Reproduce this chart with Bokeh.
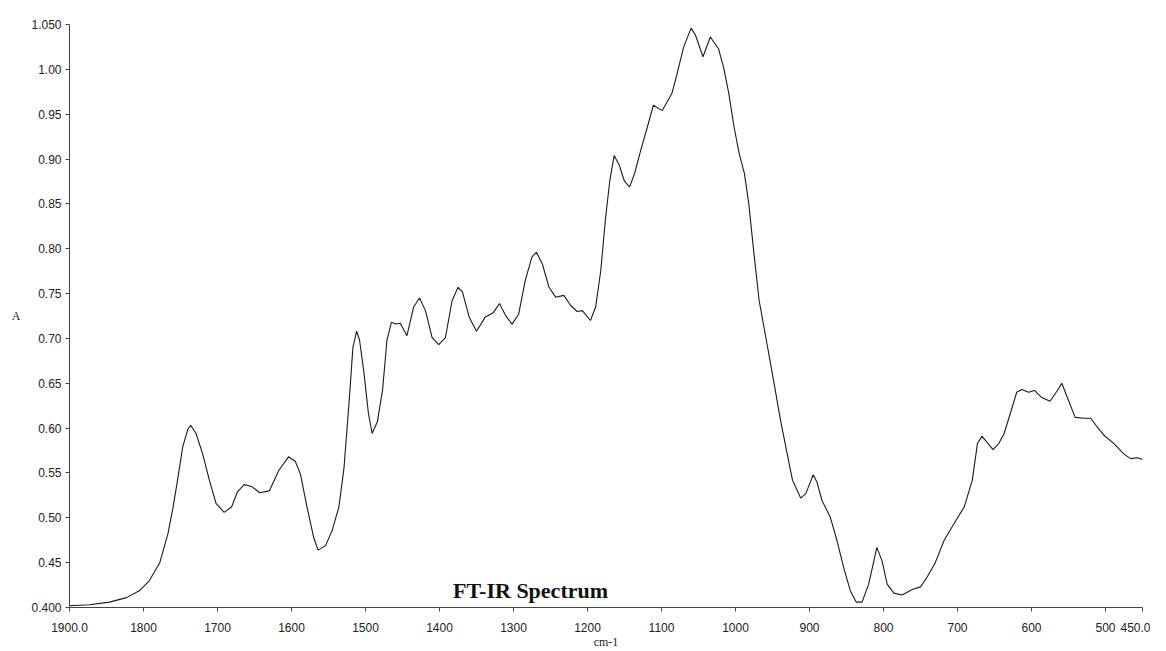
from bokeh.plotting import figure
from bokeh.models import FixedTicker, Range1d, Label
from bokeh.embed import file_html
from bokeh.resources import INLINE

wavenumber = [1900, 1873, 1846, 1823, 1805, 1792, 1778, 1767, 1760, 1754, 1747, 1740, 1736, 1729, 1720, 1711, 1702, 1691, 1681, 1673, 1664, 1654, 1643, 1630,
              1617, 1604, 1595, 1588, 1579, 1570, 1564, 1554, 1545, 1536, 1529, 1522, 1517, 1512, 1508, 1502, 1496, 1491, 1484, 1477, 1471, 1465, 1459, 1453, 1444, 1435, 1427, 1419, 1410, 1401, 1392, 1383,
              1375, 1369, 1360, 1350, 1338, 1331, 1327, 1319, 1311, 1302, 1293, 1284, 1275, 1269, 1261, 1252, 1243, 1232, 1223, 1214, 1207, 1196, 1189, 1182, 1176,
              1170, 1164, 1157, 1150, 1143, 1136, 1128, 1119, 1111, 1099, 1086, 1079, 1070, 1060, 1054, 1044, 1034, 1023, 1016, 1009, 1002, 995, 988, 982, 975, 968, 959, 950,
              939, 932, 923, 912, 905, 895, 890, 883, 872, 863, 854, 845, 837, 829, 820, 809, 802, 795, 786, 775, 761, 750, 741, 730, 718, 705, 691, 680, 673, 667,
              660, 652, 644, 637, 628, 620, 613, 604, 596, 586, 575, 565, 559, 552, 541, 529, 520, 511, 502, 489, 475, 466, 457, 450]

absorbance = [0.402, 0.403, 0.406, 0.411, 0.419, 0.430, 0.450, 0.482, 0.512, 0.542, 0.579, 0.599, 0.603, 0.594, 0.571, 0.542, 0.516, 0.506, 0.512, 0.529, 0.537, 0.535, 0.528, 0.530,
              0.553, 0.568, 0.563, 0.549, 0.512, 0.478, 0.464, 0.469, 0.486, 0.512, 0.556, 0.631, 0.690, 0.708, 0.698, 0.661, 0.616, 0.594, 0.607, 0.642, 0.698, 0.718, 0.716, 0.717, 0.703, 0.735, 0.745, 0.731, 0.701, 0.693, 0.701, 0.742,
              0.757, 0.752, 0.724, 0.708, 0.724, 0.727, 0.729, 0.739, 0.726, 0.716, 0.727, 0.765, 0.791, 0.796, 0.783, 0.757, 0.746, 0.748, 0.737, 0.730, 0.731, 0.720, 0.735, 0.776, 0.831,
              0.875, 0.904, 0.893, 0.875, 0.869, 0.885, 0.910, 0.936, 0.960, 0.954, 0.973, 0.995, 1.025, 1.046, 1.038, 1.014, 1.036, 1.023, 1.002, 0.973, 0.936, 0.906, 0.884, 0.850, 0.794, 0.742, 0.701, 0.660,
              0.608, 0.579, 0.542, 0.522, 0.527, 0.548, 0.540, 0.519, 0.501, 0.475, 0.445, 0.419, 0.406, 0.406, 0.426, 0.467, 0.452, 0.426, 0.416, 0.414, 0.420, 0.423, 0.434, 0.450, 0.475, 0.493, 0.512, 0.542, 0.583, 0.591,
              0.584, 0.576, 0.583, 0.594, 0.618, 0.640, 0.643, 0.640, 0.642, 0.634, 0.630, 0.642, 0.650, 0.635, 0.612, 0.611, 0.611, 0.601, 0.592, 0.583, 0.571, 0.566, 0.567, 0.565]

x_ticks = [1900, 1800, 1700, 1600, 1500, 1400, 1300, 1200, 1100, 1000, 900, 800, 700, 600, 500, 450]
x_tick_labels = ["1900.0", "1800", "1700", "1600", "1500", "1400", "1300", "1200", "1100", "1000", "900", "800", "700", "600", "500", "450.0"]
y_ticks = [0.40, 0.45, 0.50, 0.55, 0.60, 0.65, 0.70, 0.75, 0.80, 0.85, 0.90, 0.95, 1.00, 1.05]
y_tick_labels = ["0.400", "0.45", "0.50", "0.55", "0.60", "0.65", "0.70", "0.75", "0.80", "0.85", "0.90", "0.95", "1.00", "1.050"]

title_text = "FT-IR Spectrum"
x_label = "cm-1"
y_label = "A"

p = figure(width=1150, height=651, output_backend="svg", toolbar_location=None,
           x_range=Range1d(1900, 450), y_range=Range1d(0.40, 1.05),
           min_border_left=69, min_border_right=8, min_border_top=24, min_border_bottom=44)
p.outline_line_color = None
p.xgrid.visible = False
p.ygrid.visible = False
p.background_fill_color = "white"

p.line(wavenumber, absorbance, line_color="#1a1a1a", line_width=1.1)

for ax in (p.xaxis[0], p.yaxis[0]):
    ax.axis_line_color = "#444444"
    ax.major_tick_line_color = "#444444"
    ax.minor_tick_line_color = None
    ax.major_tick_in = 0
    ax.major_tick_out = 4
    ax.major_label_text_font = "Liberation Sans"
    ax.major_label_text_font_size = "12px"
    ax.major_label_text_color = "#222222"

p.xaxis.ticker = FixedTicker(ticks=x_ticks)
p.xaxis.major_label_overrides = {t: l for t, l in zip(x_ticks, x_tick_labels)}
p.xaxis.major_label_standoff = 11
p.xaxis.axis_label = x_label
p.xaxis.axis_label_text_font = "Liberation Serif"
p.xaxis.axis_label_text_font_style = "normal"
p.xaxis.axis_label_text_font_size = "12px"
p.xaxis.axis_label_text_color = "#222222"
p.xaxis.axis_label_standoff = 0

p.yaxis.ticker = FixedTicker(ticks=y_ticks)
p.yaxis.major_label_overrides = {t: l for t, l in zip(y_ticks, y_tick_labels)}
p.yaxis.major_label_standoff = 4

yax = p.yaxis[0]
try:
    yax.axis_label_orientation = "horizontal"
    yax.axis_label = y_label
    yax.axis_label_text_font = "Liberation Serif"
    yax.axis_label_text_font_style = "normal"
    yax.axis_label_text_font_size = "12px"
    yax.axis_label_text_color = "#222222"
    yax.axis_label_standoff = 8
except Exception:
    p.add_layout(Label(x=15, y=315, x_units="screen", y_units="screen", text=y_label,
                       text_font="Liberation Serif", text_font_size="12px", text_color="#222222",
                       text_align="center", text_baseline="middle"))

p.add_layout(Label(x=1277, y=0.419, text=title_text, text_font="Liberation Serif",
                   text_font_style="bold", text_font_size="22px", text_color="#111111",
                   text_align="center", text_baseline="middle"))

open("out.html", "w").write(file_html(p, INLINE))
